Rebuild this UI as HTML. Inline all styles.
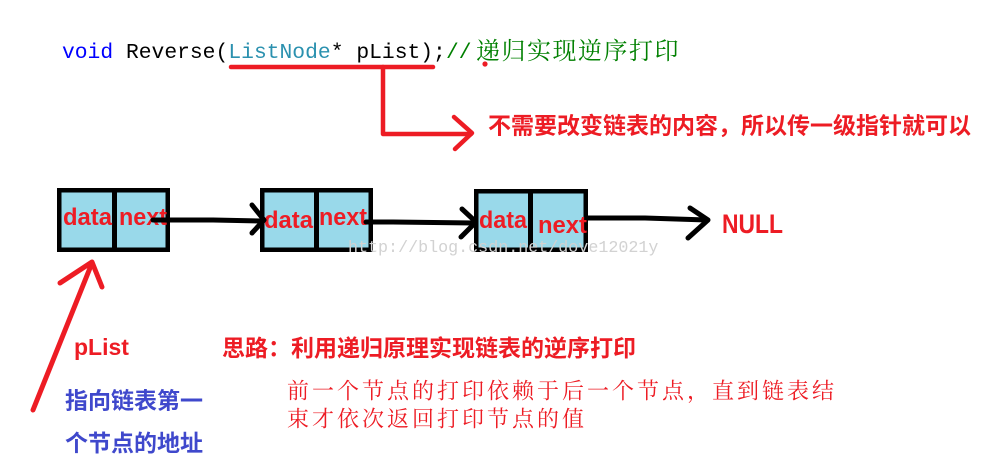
<!DOCTYPE html>
<html>
<head>
<meta charset="utf-8">
<style>
html,body{margin:0;padding:0;background:#fff;}
body{width:986px;height:473px;overflow:hidden;}
svg{display:block;}
.cj{font-family:"Liberation Sans","Noto Sans CJK SC",sans-serif;font-weight:bold;}
.lb{font-family:"Liberation Sans",sans-serif;font-weight:bold;}
</style>
</head>
<body>
<svg width="986" height="473" viewBox="0 0 986 473" xmlns="http://www.w3.org/2000/svg">
<rect width="986" height="473" fill="#fff"/>

<!-- code line -->
<g font-family="'Liberation Mono', monospace" font-size="21.3">
<text x="62" y="58" fill="#0000ff">void</text>
<text x="126" y="58" fill="#000">Reverse(</text>
<text x="228.4" y="58" fill="#2b91af">ListNode</text>
<text x="330.8" y="58" fill="#000">* pList);</text>
<text x="446" y="58" fill="#008000">//</text>
</g>
<text x="476" y="59" fill="#008000" font-family="'Liberation Serif','Noto Serif CJK SC',serif" font-size="24" letter-spacing="1.5">递归实现逆序打印</text>

<!-- red underline & connector -->
<g stroke="#ed1c24" stroke-width="4.5" fill="none" stroke-linecap="round" stroke-linejoin="round">
<polyline points="231,67 433,67"/>
<polyline points="383,67 383,134 471,134"/>
<polyline points="454,117 472,133 455,149"/>
</g>
<circle cx="485" cy="64" r="2.6" fill="#ed1c24"/>
<text x="488" y="133.7" fill="#ed1c24" class="cj" font-size="23">不需要改变链表的内容，所以传一级指针就可以</text>

<!-- nodes -->
<g fill="#99d9ea" stroke="#000" stroke-width="4.5">
<rect x="59.25" y="190.25" width="108.5" height="59.5"/>
<rect x="262.25" y="190.25" width="108.5" height="59.5"/>
<rect x="476.25" y="191.25" width="109.5" height="58.5"/>
</g>
<g fill="#000">
<rect x="112" y="189" width="5" height="62"/>
<rect x="314" y="189" width="5" height="62"/>
<rect x="528" y="190" width="5" height="61"/>
</g>

<!-- node texts -->
<g class="lb" font-size="24" fill="#ed1c24">
<text x="63" y="225" textLength="49" lengthAdjust="spacingAndGlyphs">data</text>
<text x="119" y="225" textLength="48" lengthAdjust="spacingAndGlyphs">next</text>
<text x="264" y="228" textLength="49" lengthAdjust="spacingAndGlyphs">data</text>
<text x="319" y="225" textLength="48" lengthAdjust="spacingAndGlyphs">next</text>
<text x="479" y="228" textLength="48" lengthAdjust="spacingAndGlyphs">data</text>
<text x="538" y="233" textLength="49" lengthAdjust="spacingAndGlyphs">next</text>
</g>

<!-- black arrows -->
<g stroke="#000" stroke-width="5" fill="none" stroke-linecap="round" stroke-linejoin="round">
<polyline points="153,220 213,220 262,221"/>
<polyline points="252,205 264,220 252,233"/>
<polyline points="366,222 393,222 474,223"/>
<polyline points="462,209 476,222 461,237"/>
<polyline points="588,218 645,218 707,220"/>
<polyline points="690,208 708,220 688,238"/>
</g>

<text x="722" y="233" class="lb" font-size="27" fill="#ed1c24" textLength="61" lengthAdjust="spacingAndGlyphs">NULL</text>

<!-- watermark -->
<text x="348" y="252" font-family="'Liberation Mono', monospace" font-size="16.7" fill="#d2d2d2">http://blog.csdn.net/dove12021y</text>

<!-- pList arrow -->
<g stroke="#ed1c24" stroke-width="5" fill="none" stroke-linecap="round" stroke-linejoin="round">
<line x1="33" y1="410" x2="92" y2="263"/>
<polyline points="60,283 92,262 102,287"/>
</g>
<text x="74" y="355" class="lb" font-size="23" fill="#ed1c24">pList</text>

<text x="222" y="356" class="cj" font-size="23" fill="#ed1c24">思路：利用递归原理实现链表的逆序打印</text>

<g font-family="'Liberation Serif','Noto Serif CJK SC',serif" font-size="22" fill="#ed1c24" letter-spacing="3">
<text x="287" y="398.4">前一个节点的打印依赖于后一个节点，直到链表结</text>
<text x="287" y="426.4">束才依次返回打印节点的值</text>
</g>

<g class="cj" font-size="23" fill="#3f48cc">
<text x="65" y="408.7">指向链表第一</text>
<text x="65" y="451">个节点的地址</text>
</g>
</svg>
</body>
</html>
